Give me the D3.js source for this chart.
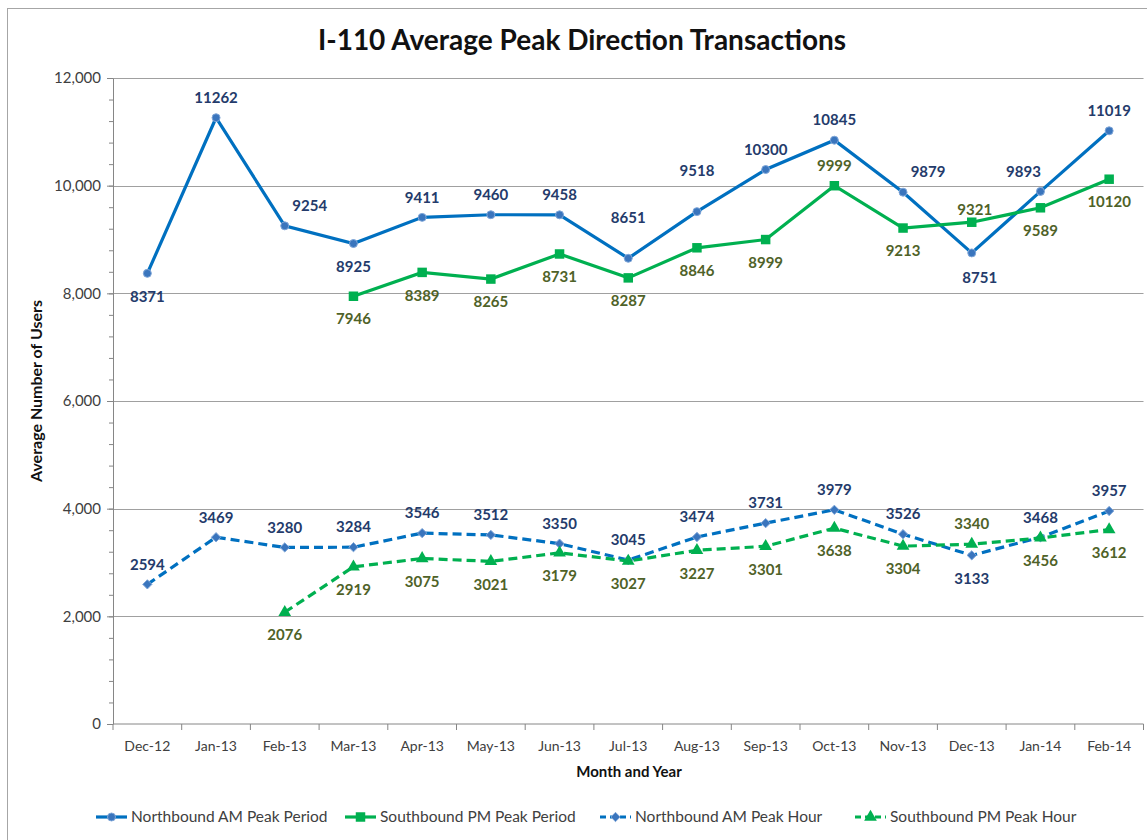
<!DOCTYPE html>
<head>
  <meta charset="utf-8">
  <script src="https://d3js.org/d3.v7.min.js"></script>
  <style>
  body { margin: 0; background: #fff; }
  #chart text { font-family: Lato, "Open Sans", sans-serif; }
  .axis path, .axis line { stroke: #868686; }
  .axis text { fill: #404040; font-size: 14px; }
  .yax text { font-size: 15px; }
  .lbl { font-size: 15px; font-weight: bold; text-anchor: middle; }
  </style>
</head>

<body>
  <svg id="chart"></svg>
  <script>

    var months = ["Dec-12", "Jan-13", "Feb-13", "Mar-13", "Apr-13", "May-13", "Jun-13", "Jul-13",
                  "Aug-13", "Sep-13", "Oct-13", "Nov-13", "Dec-13", "Jan-14", "Feb-14"];
    var nbPeriod = [8371, 11262, 9254, 8925, 9411, 9460, 9458, 8651, 9518, 10300, 10845, 9879, 8751, 9893, 11019];
    var sbPeriod = [null, null, null, 7946, 8389, 8265, 8731, 8287, 8846, 8999, 9999, 9213, 9321, 9589, 10120];
    var nbHour = [2594, 3469, 3280, 3284, 3546, 3512, 3350, 3045, 3474, 3731, 3979, 3526, 3133, 3468, 3957];
    var sbHour = [null, null, 2076, 2919, 3075, 3021, 3179, 3027, 3227, 3301, 3638, 3304, 3340, 3456, 3612];
    var yTicks = [0, 2000, 4000, 6000, 8000, 10000, 12000];

    // where each data label sits relative to its point
    var nbPeriodLbl = ["b", "a", "ar", "b", "a", "a", "a", "a2", "a2", "a", "a", "ar", "br", "al", "a"];
    var sbPeriodLbl = [null, null, null, "b", "b", "b", "b", "b", "b", "b", "a", "b", "a1", "b", "b"];
    var nbHourLbl = ["a", "a", "a", "a", "a", "a", "a", "a", "a", "a", "a", "a", "b", "a", "a"];
    var sbHourLbl = [null, null, "b", "b", "b", "b", "b", "b", "b", "b", "b", "b", "a", "b", "b"];
    var offsets = { a: [0, -20], a1: [3, -12], a2: [0, -41], ar: [25, -20], al: [-17, -20], b: [0, 23], br: [8, 25] };

    var blue = "#0070C0", green = "#00B050";
    var series = [
      { name: "Northbound AM Peak Period", values: nbPeriod, lbl: nbPeriodLbl, color: blue, dash: null,
        symbol: d3.symbolCircle, size: 50, lblColor: "#243B6B" },
      { name: "Southbound PM Peak Period", values: sbPeriod, lbl: sbPeriodLbl, color: green, dash: null,
        symbol: d3.symbolSquare, size: 90, lblColor: "#4F6228" },
      { name: "Northbound AM Peak Hour", values: nbHour, lbl: nbHourLbl, color: blue, dash: "9,5",
        symbol: d3.symbolDiamond2, size: 55, lblColor: "#243B6B" },
      { name: "Southbound PM Peak Hour", values: sbHour, lbl: sbHourLbl, color: green, dash: "9,5",
        symbol: d3.symbolTriangle, size: 70, lblColor: "#4F6228" }
    ];

    var width = 1147, height = 840;
    var plotLeft = 113, plotRight = 1143.5, plotTop = 78, plotBottom = 724;

    var chart = d3.select('#chart')
        .attr('width', width)
        .attr('height', height);

    // outer chart border
    chart.append('rect')
        .attr('x', 7.5).attr('y', 8.5)
        .attr('width', 1200).attr('height', 900)
        .attr('fill', 'none').attr('stroke', '#A6A6A6');

    var x = d3.scalePoint()
        .domain(months)
        .range([plotLeft, plotRight])
        .padding(0.5);
    var step = x.step();

    var y = d3.scaleLinear()
        .domain([0, 12000])
        .range([plotBottom, plotTop]);

    // gridlines
    chart.append('g').selectAll('line')
        .data(yTicks.filter(function(d) { return d > 0; }))
      .enter().append('line')
        .attr('x1', plotLeft).attr('x2', plotRight)
        .attr('y1', function(d) { return Math.round(y(d)) + 0.5; })
        .attr('y2', function(d) { return Math.round(y(d)) + 0.5; })
        .attr('stroke', '#A0A0A0').attr('stroke-width', 1.2);

    // minor y ticks
    chart.append('g')
        .attr('class', 'axis')
        .attr('transform', 'translate(' + plotLeft + ',0)')
        .call(d3.axisLeft(y).tickValues(d3.range(0, 12001, 400)).tickSize(4).tickFormat(''))
        .select('.domain').remove();

    chart.append('g')
        .attr('class', 'axis yax')
        .attr('transform', 'translate(' + plotLeft + ',0)')
        .call(d3.axisLeft(y).tickValues(yTicks).tickSize(6).tickPadding(6).tickSizeOuter(0)
          .tickFormat(d3.format(',')));

    // x axis: ticks at category boundaries
    var xAxis = chart.append('g')
        .attr('class', 'axis')
        .attr('transform', 'translate(0,' + plotBottom + ')');
    xAxis.append('line')
        .attr('x1', plotLeft).attr('x2', plotRight)
        .attr('stroke', '#868686');
    xAxis.selectAll('.bt')
        .data(d3.range(0, months.length + 1))
      .enter().append('line')
        .attr('class', 'bt')
        .attr('x1', function(i) { return plotLeft + i * step; })
        .attr('x2', function(i) { return plotLeft + i * step; })
        .attr('y1', 0).attr('y2', 6)
        .attr('stroke', '#868686');
    xAxis.selectAll('text')
        .data(months)
      .enter().append('text')
        .attr('x', function(d) { return x(d); })
        .attr('y', 27)
        .attr('text-anchor', 'middle')
        .text(function(d) { return d; });

    // titles
    chart.append('text')
        .attr('x', 582).attr('y', 50)
        .attr('text-anchor', 'middle')
        .style('font-size', '28px').style('font-weight', 'bold').style('fill', '#111')
        .text('I-110 Average Peak Direction Transactions');

    chart.append('text')
        .attr('transform', 'translate(42,' + ((plotTop + plotBottom) / 2 - 10) + ') rotate(-90)')
        .attr('text-anchor', 'middle')
        .style('font-size', '16px').style('font-weight', 'bold').style('fill', '#111')
        .text('Average Number of Users');

    chart.append('text')
        .attr('x', 629).attr('y', 777)
        .attr('text-anchor', 'middle')
        .style('font-size', '15px').style('font-weight', 'bold').style('fill', '#111')
        .text('Month and Year');

    var line = d3.line()
        .defined(function(d) { return d.v != null; })
        .x(function(d) { return x(d.m); })
        .y(function(d) { return y(d.v); });

    series.forEach(function(s) {
      var pts = s.values.map(function(v, i) { return { m: months[i], v: v, p: s.lbl[i] }; });
      var g = chart.append('g');
      g.append('path')
          .datum(pts)
          .attr('d', line)
          .attr('fill', 'none')
          .attr('stroke', s.color)
          .attr('stroke-width', 3.2)
          .attr('stroke-dasharray', s.dash);
      var defined = pts.filter(function(d) { return d.v != null; });
      g.selectAll('path.mk')
          .data(defined)
        .enter().append('path')
          .attr('class', 'mk')
          .attr('d', d3.symbol().type(s.symbol).size(s.size))
          .attr('transform', function(d) { return 'translate(' + x(d.m) + ',' + y(d.v) + ')'; })
          .attr('fill', s.color === blue ? '#3A75BD' : green)
          .attr('stroke', s.color === blue ? '#7FA6D8' : 'none')
          .attr('stroke-width', 1);
      s.pts = defined;
    });

    // data labels on top
    series.forEach(function(s) {
      chart.append('g').selectAll('text')
          .data(s.pts)
        .enter().append('text')
          .attr('class', 'lbl')
          .attr('x', function(d) { return x(d.m) + offsets[d.p][0]; })
          .attr('y', function(d) { return y(d.v) + offsets[d.p][1]; })
          .attr('dy', '0.35em')
          .style('fill', s.lblColor)
          .text(function(d) { return d.v; });
    });

    // legend
    var legX = [96, 345, 600, 855];
    var leg = chart.append('g')
        .attr('transform', 'translate(0,817)');
    var item = leg.selectAll('g')
        .data(series)
      .enter().append('g')
        .attr('transform', function(d, i) { return 'translate(' + legX[i] + ',0)'; });
    item.append('line')
        .attr('x1', 0).attr('x2', 31)
        .attr('stroke', function(d) { return d.color; })
        .attr('stroke-width', 3.2)
        .attr('stroke-dasharray', function(d) { return d.dash ? '6,4' : null; });
    item.append('path')
        .attr('d', function(d) { return d3.symbol().type(d.symbol).size(d.size)(); })
        .attr('transform', 'translate(15.5,0)')
        .attr('fill', function(d) { return d.color === blue ? '#3A75BD' : green; })
        .attr('stroke', function(d) { return d.color === blue ? '#7FA6D8' : 'none'; });
    item.append('text')
        .attr('x', 35)
        .attr('dy', '0.35em')
        .style('font-size', '15.5px').style('fill', '#404040')
        .text(function(d) { return d.name; });

  </script>
</body>
